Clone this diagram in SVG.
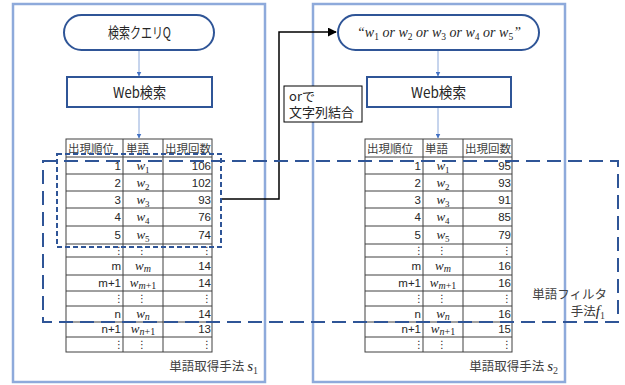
<svg xmlns="http://www.w3.org/2000/svg" width="625" height="385" viewBox="0 0 625 385">
<style>
.panel{fill:none;stroke:#8eaadb;stroke-width:2.5}
.term{fill:#fff;stroke:#2f5597;stroke-width:2}
.proc{fill:#fff;stroke:#2f5597;stroke-width:2}
.flow{stroke:#8eaadb;stroke-width:1;fill:none}
.grid{stroke:#404040;stroke-width:1;fill:none}
.jp{font-family:"Noto Sans CJK JP","Noto Sans",sans-serif;fill:#262626}
.num{font-family:"Liberation Sans","Noto Sans",sans-serif;font-size:11.5px;fill:#262626;text-anchor:end}
.hdr{font-family:"Noto Sans CJK JP",sans-serif;font-size:11.5px;fill:#404040}
.w{font-family:"Liberation Serif",serif;font-style:italic;font-size:13px;fill:#262626;text-anchor:middle}
.dots{font-family:"DejaVu Sans",sans-serif;font-size:10px;fill:#262626;text-anchor:middle}
.math{font-family:"Liberation Serif",serif;font-style:italic;fill:#262626}
.lbl{font-family:"Noto Sans CJK JP","Noto Sans",sans-serif;font-size:12.5px;fill:#404040;text-anchor:end}
</style>
<defs>
<marker id="ab" viewBox="0 0 10 10" refX="9" refY="5" markerWidth="5" markerHeight="5" orient="auto"><path d="M0,0L10,5L0,10z" fill="#4472c4"/></marker>
<marker id="ak" viewBox="0 0 10 10" refX="9" refY="5" markerWidth="6" markerHeight="6" orient="auto"><path d="M0,0L10,5L0,10z" fill="#000"/></marker>
</defs>

<g id="panel-s1">
<rect class="panel" x="13" y="4" width="252" height="378"/>
<text class="lbl" x="258" y="371">単語取得手法 <tspan class="math" font-size="15">s</tspan><tspan font-family="Liberation Serif" font-size="10" dy="3">1</tspan></text>
</g>
<g id="panel-s2">
<rect class="panel" x="313" y="4" width="252" height="378"/>
<text class="lbl" x="558" y="371">単語取得手法 <tspan class="math" font-size="15">s</tspan><tspan font-family="Liberation Serif" font-size="10" dy="3">2</tspan></text>
</g>

<g id="connectors">
<line class="flow" x1="139" y1="51" x2="139" y2="76" marker-end="url(#ab)"/>
<line class="flow" x1="139" y1="108" x2="139" y2="138" marker-end="url(#ab)"/>
<line class="flow" x1="438" y1="51" x2="438" y2="76" marker-end="url(#ab)"/>
<line class="flow" x1="438" y1="108" x2="438" y2="138" marker-end="url(#ab)"/>
<path d="M221,199H279V32H336" fill="none" stroke="#000" stroke-width="1.5" marker-end="url(#ak)"/>
</g>

<g id="query-q">
<rect class="term" x="64" y="15" width="150" height="35" rx="17.5"/>
<text class="jp" x="108" y="38" font-size="15" textLength="63" lengthAdjust="spacingAndGlyphs">検索クエリQ</text>
</g>
<g id="websearch-1">
<rect class="proc" x="67" y="77" width="145" height="30"/>
<text class="jp" x="113" y="97.5" font-size="15" textLength="53" lengthAdjust="spacingAndGlyphs">Web検索</text>
</g>
<g id="query-or">
<rect class="term" x="338" y="15" width="201" height="35" rx="17.5"/>
<text class="math" x="439" y="36.5" font-size="14" text-anchor="middle">“w<tspan font-style="normal" font-size="9.5" dy="3">1</tspan><tspan dy="-3"> or w</tspan><tspan font-style="normal" font-size="9.5" dy="3">2</tspan><tspan dy="-3"> or w</tspan><tspan font-style="normal" font-size="9.5" dy="3">3</tspan><tspan dy="-3"> or w</tspan><tspan font-style="normal" font-size="9.5" dy="3">4</tspan><tspan dy="-3"> or w</tspan><tspan font-style="normal" font-size="9.5" dy="3">5</tspan><tspan dy="-3">”</tspan></text>
</g>
<g id="websearch-2">
<rect class="proc" x="367" y="77" width="144" height="30"/>
<text class="jp" x="411" y="97.5" font-size="15" textLength="55" lengthAdjust="spacingAndGlyphs">Web検索</text>
</g>
<g id="or-label">
<rect x="284" y="86" width="78" height="36" fill="#fff" stroke="#000" stroke-width="1"/>
<text class="jp" x="289" y="101" font-size="13">orで<tspan x="289" dy="16">文字列結合</tspan></text>
</g>

<g id="table-1">
<rect class="grid" x="66" y="139" width="146" height="213"/>
<path class="grid" d="M123,139V352M163,139V352M66,157H212M66,174H212M66,191H212M66,208H212M66,226H212M66,244H212M66,257H212M66,275H212M66,291H212M66,306H212M66,322H212M66,337H212"/>
<text class="hdr" x="68" y="152.5">出現順位</text>
<text class="hdr" x="126" y="152.5">単語</text>
<text class="hdr" x="165" y="152.5">出現回数</text>
<g class="num">
<text x="121" y="170">1</text><text x="211" y="170">106</text>
<text x="121" y="187">2</text><text x="211" y="187">102</text>
<text x="121" y="204">3</text><text x="211" y="204">93</text>
<text x="121" y="221">4</text><text x="211" y="221">76</text>
<text x="121" y="239">5</text><text x="211" y="239">74</text>
<text x="121" y="270">m</text><text x="211" y="270">14</text>
<text x="121" y="287">m+1</text><text x="211" y="287">14</text>
<text x="121" y="318">n</text><text x="211" y="318">14</text>
<text x="121" y="333">n+1</text><text x="211" y="333">13</text>
</g>
<g class="w">
<text x="143" y="170">w<tspan font-style="normal" font-size="9" dy="3">1</tspan></text>
<text x="143" y="187">w<tspan font-style="normal" font-size="9" dy="3">2</tspan></text>
<text x="143" y="204">w<tspan font-style="normal" font-size="9" dy="3">3</tspan></text>
<text x="143" y="221">w<tspan font-style="normal" font-size="9" dy="3">4</tspan></text>
<text x="143" y="239">w<tspan font-style="normal" font-size="9" dy="3">5</tspan></text>
<text x="143" y="270">w<tspan font-size="10" dy="2">m</tspan></text>
<text x="143" y="287">w<tspan font-size="10" dy="2">m</tspan><tspan font-style="normal" font-size="10">+1</tspan></text>
<text x="143" y="318">w<tspan font-size="10" dy="2">n</tspan></text>
<text x="143" y="333">w<tspan font-size="10" dy="2">n</tspan><tspan font-style="normal" font-size="10">+1</tspan></text>
</g>
<g class="dots">
<text x="119" y="254">⋮</text><text x="142" y="254">⋮</text><text x="207" y="254">⋮</text>
<text x="119" y="302">⋮</text><text x="142" y="302">⋮</text><text x="207" y="302">⋮</text>
<text x="119" y="348">⋮</text><text x="142" y="348">⋮</text><text x="207" y="348">⋮</text>
</g>
</g>

<g id="table-2">
<rect class="grid" x="365" y="139" width="147" height="213"/>
<path class="grid" d="M423,139V352M463,139V352M365,157H512M365,174H512M365,191H512M365,208H512M365,226H512M365,244H512M365,257H512M365,275H512M365,291H512M365,306H512M365,322H512M365,337H512"/>
<text class="hdr" x="367" y="152.5">出現順位</text>
<text class="hdr" x="425" y="152.5">単語</text>
<text class="hdr" x="465" y="152.5">出現回数</text>
<g class="num">
<text x="421" y="170">1</text><text x="511" y="170">95</text>
<text x="421" y="187">2</text><text x="511" y="187">93</text>
<text x="421" y="204">3</text><text x="511" y="204">91</text>
<text x="421" y="221">4</text><text x="511" y="221">85</text>
<text x="421" y="239">5</text><text x="511" y="239">79</text>
<text x="421" y="270">m</text><text x="511" y="270">16</text>
<text x="421" y="287">m+1</text><text x="511" y="287">16</text>
<text x="421" y="318">n</text><text x="511" y="318">16</text>
<text x="421" y="333">n+1</text><text x="511" y="333">15</text>
</g>
<g class="w">
<text x="443" y="170">w<tspan font-style="normal" font-size="9" dy="3">1</tspan></text>
<text x="443" y="187">w<tspan font-style="normal" font-size="9" dy="3">2</tspan></text>
<text x="443" y="204">w<tspan font-style="normal" font-size="9" dy="3">3</tspan></text>
<text x="443" y="221">w<tspan font-style="normal" font-size="9" dy="3">4</tspan></text>
<text x="443" y="239">w<tspan font-style="normal" font-size="9" dy="3">5</tspan></text>
<text x="443" y="270">w<tspan font-size="10" dy="2">m</tspan></text>
<text x="443" y="287">w<tspan font-size="10" dy="2">m</tspan><tspan font-style="normal" font-size="10">+1</tspan></text>
<text x="443" y="318">w<tspan font-size="10" dy="2">n</tspan></text>
<text x="443" y="333">w<tspan font-size="10" dy="2">n</tspan><tspan font-style="normal" font-size="10">+1</tspan></text>
</g>
<g class="dots">
<text x="419" y="254">⋮</text><text x="442" y="254">⋮</text><text x="507" y="254">⋮</text>
<text x="419" y="302">⋮</text><text x="442" y="302">⋮</text><text x="507" y="302">⋮</text>
<text x="419" y="348">⋮</text><text x="442" y="348">⋮</text><text x="507" y="348">⋮</text>
</g>
</g>

<g id="top5-box">
<rect x="57" y="154" width="164" height="93" fill="none" stroke="#2f5597" stroke-width="2" stroke-dasharray="5,3"/>
</g>
<g id="filter-f1">
<rect x="43" y="161" width="575" height="161" fill="none" stroke="#2f5597" stroke-width="2" stroke-dasharray="14,7"/>
<text class="lbl" x="607" y="299">単語フィルタ<tspan x="605" dy="17">手法</tspan><tspan class="math" font-size="15">f</tspan><tspan font-family="Liberation Serif" font-size="10" dy="3">1</tspan></text>
</g>
</svg>
